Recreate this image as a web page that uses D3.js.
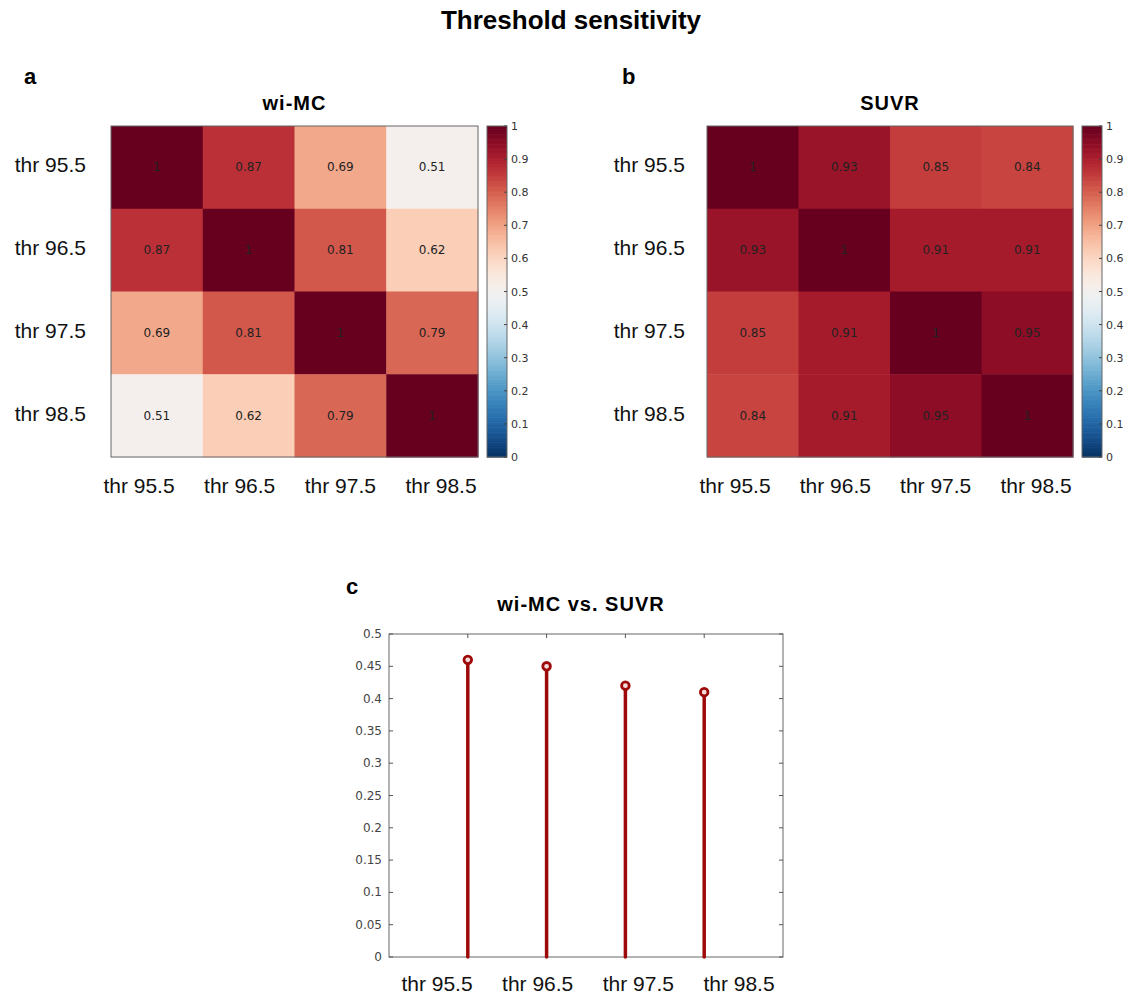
<!DOCTYPE html>
<html>
<head>
<meta charset="utf-8">
<title>Threshold sensitivity</title>
<script src="https://cdn.jsdelivr.net/npm/d3@7"></script>
<style>
  body { margin: 0; background: #fff; }
  text { font-family: "Liberation Sans", Arial, sans-serif; }
  .cell-label, .tick-num { font-family: "DejaVu Sans", sans-serif; }
</style>
</head>
<body>
<svg id="fig"></svg>
<script>
// data
var thresholds = ["thr 95.5", "thr 96.5", "thr 97.5", "thr 98.5"];
var wimcMatrix = [
  [1, 0.87, 0.69, 0.51],
  [0.87, 1, 0.81, 0.62],
  [0.69, 0.81, 1, 0.79],
  [0.51, 0.62, 0.79, 1]
];
var suvrMatrix = [
  [1, 0.93, 0.85, 0.84],
  [0.93, 1, 0.91, 0.91],
  [0.85, 0.91, 1, 0.95],
  [0.84, 0.91, 0.95, 1]
];
var wimcVsSuvr = [0.46, 0.45, 0.42, 0.41];
var colorbarTicks = [0, 0.1, 0.2, 0.3, 0.4, 0.5, 0.6, 0.7, 0.8, 0.9, 1];
var stemTicks = [0, 0.05, 0.1, 0.15, 0.2, 0.25, 0.3, 0.35, 0.4, 0.45, 0.5];

var W = 1128, H = 996;
var svg = d3.select("#fig").attr("width", W).attr("height", H);

var color = function(v) { return d3.interpolateRdBu(1 - v); };
var fmt = function(v) { return v === 1 ? "1" : String(v); };

svg.append("text")
  .attr("x", 571).attr("y", 29)
  .attr("text-anchor", "middle")
  .style("font-size", "26px").style("font-weight", "bold")
  .text("Threshold sensitivity");

function subtitle(g, x, y, s) {
  g.append("text").attr("x", x).attr("y", y)
    .attr("text-anchor", "middle")
    .style("font-size", "20px").style("font-weight", "bold")
    .style("letter-spacing", "1px")
    .text(s);
}

function heatmap(opts) {
  var g = svg.append("g");
  var x = d3.scaleBand().domain(d3.range(4)).range([opts.left, opts.right]);
  var y = d3.scaleBand().domain(d3.range(4)).range([opts.top, opts.bottom]);

  g.append("text").attr("x", opts.letterX).attr("y", 84)
    .style("font-size", "22px").style("font-weight", "bold").text(opts.letter);
  subtitle(g, (opts.left + opts.right) / 2, 110, opts.title);

  var cells = [];
  opts.data.forEach(function(row, i) {
    row.forEach(function(v, j) { cells.push({ r: i, c: j, v: v }); });
  });

  g.selectAll("rect.cell").data(cells).enter().append("rect")
    .attr("class", "cell")
    .attr("x", function(d) { return x(d.c); })
    .attr("y", function(d) { return y(d.r); })
    .attr("width", x.bandwidth() + 0.5)
    .attr("height", y.bandwidth() + 0.5)
    .style("fill", function(d) { return color(d.v); });

  g.selectAll("text.cell-label").data(cells).enter().append("text")
    .attr("class", "cell-label")
    .attr("x", function(d) { return x(d.c) + x.bandwidth() / 2; })
    .attr("y", function(d) { return y(d.r) + y.bandwidth() / 2 + 4; })
    .attr("text-anchor", "middle")
    .style("font-size", "12px").style("fill", "#222")
    .text(function(d) { return fmt(d.v); });

  g.append("rect")
    .attr("x", opts.left).attr("y", opts.top)
    .attr("width", opts.right - opts.left).attr("height", opts.bottom - opts.top)
    .style("fill", "none").style("stroke", "#666").style("stroke-width", 1);

  // row labels
  g.selectAll("text.row").data(thresholds).enter().append("text")
    .attr("class", "row")
    .attr("x", opts.left - opts.rowGap)
    .attr("y", function(d, i) { return y(i) + y.bandwidth() / 2 + 5; })
    .attr("text-anchor", "end")
    .style("font-size", "21px").style("fill", "#111")
    .text(function(d) { return d; });

  // column labels (spaced a little wider than the cells, like the original)
  var lx = d3.scalePoint().domain(thresholds).range([opts.left + 28, opts.right - 37]);
  g.selectAll("text.col").data(thresholds).enter().append("text")
    .attr("class", "col")
    .attr("x", function(d) { return lx(d); })
    .attr("y", opts.bottom + 36)
    .attr("text-anchor", "middle")
    .style("font-size", "21px").style("fill", "#111")
    .text(function(d) { return d; });

  // colorbar
  var cbL = opts.right + 9, cbW = 20;
  var cy = d3.scaleLinear().domain([0, 1]).range([opts.bottom, opts.top]);
  var steps = d3.range(0, 1.0001, 0.005);
  g.selectAll("rect.cb").data(steps).enter().append("rect")
    .attr("class", "cb")
    .attr("x", cbL)
    .attr("y", function(d) { return cy(Math.min(1, d + 0.005)); })
    .attr("width", cbW)
    .attr("height", function(d) { return cy(d) - cy(Math.min(1, d + 0.005)) + 0.6; })
    .style("fill", function(d) { return color(d + 0.0025); });
  g.append("rect")
    .attr("x", cbL).attr("y", opts.top)
    .attr("width", cbW).attr("height", opts.bottom - opts.top)
    .style("fill", "none").style("stroke", "#666").style("stroke-width", 1);
  g.selectAll("line.cbtick").data(colorbarTicks).enter().append("line")
    .attr("class", "cbtick")
    .attr("x1", cbL + cbW - 3).attr("x2", cbL + cbW)
    .attr("y1", function(d) { return cy(d); })
    .attr("y2", function(d) { return cy(d); })
    .style("stroke", "#444");
  g.selectAll("text.cblab").data(colorbarTicks).enter().append("text")
    .attr("class", "cblab tick-num")
    .attr("x", cbL + cbW + 4)
    .attr("y", function(d) { return cy(d) + 4; })
    .style("font-size", "11px").style("fill", "#333")
    .text(function(d) { return d; });
}

heatmap({ data: wimcMatrix, title: "wi-MC", letter: "a", letterX: 24, rowGap: 25,
          left: 111, right: 478, top: 126, bottom: 457 });
heatmap({ data: suvrMatrix, title: "SUVR", letter: "b", letterX: 622, rowGap: 22,
          left: 707, right: 1073, top: 126, bottom: 457 });

// panel c: stem plot
var c = { left: 389, right: 783, top: 634, bottom: 957 };
var gc = svg.append("g");
gc.append("text").attr("x", 346).attr("y", 594)
  .style("font-size", "22px").style("font-weight", "bold").text("c");
subtitle(gc, 581, 611, "wi-MC vs. SUVR");

var sx = d3.scaleLinear().domain([0, 5]).range([c.left, c.right]);
var sy = d3.scaleLinear().domain([0, 0.5]).range([c.bottom, c.top]);

gc.append("rect")
  .attr("x", c.left).attr("y", c.top)
  .attr("width", c.right - c.left).attr("height", c.bottom - c.top)
  .style("fill", "#fff").style("stroke", "#666").style("stroke-width", 1);

gc.selectAll("line.yl").data(stemTicks).enter().append("line")
  .attr("x1", c.left).attr("x2", c.left + 4)
  .attr("y1", function(d) { return sy(d); }).attr("y2", function(d) { return sy(d); })
  .style("stroke", "#555");
gc.selectAll("line.yr").data(stemTicks).enter().append("line")
  .attr("x1", c.right - 4).attr("x2", c.right)
  .attr("y1", function(d) { return sy(d); }).attr("y2", function(d) { return sy(d); })
  .style("stroke", "#555");
gc.selectAll("line.xt").data(wimcVsSuvr).enter().append("line")
  .attr("x1", function(d, i) { return sx(i + 1); })
  .attr("x2", function(d, i) { return sx(i + 1); })
  .attr("y1", c.top).attr("y2", c.top + 4)
  .style("stroke", "#555");

gc.selectAll("text.ylab").data(stemTicks).enter().append("text")
  .attr("class", "tick-num")
  .attr("x", c.left - 7)
  .attr("y", function(d) { return sy(d) + 4; })
  .attr("text-anchor", "end")
  .style("font-size", "12px").style("fill", "#444")
  .text(function(d) { return d; });

var stemColor = "#9e0a0a";
gc.selectAll("line.stem").data(wimcVsSuvr).enter().append("line")
  .attr("x1", function(d, i) { return sx(i + 1); })
  .attr("x2", function(d, i) { return sx(i + 1); })
  .attr("y1", sy(0))
  .attr("y2", function(d) { return sy(d); })
  .style("stroke", stemColor).style("stroke-width", 3.5)
  .style("stroke-linecap", "round");
gc.selectAll("circle.mk").data(wimcVsSuvr).enter().append("circle")
  .attr("cx", function(d, i) { return sx(i + 1); })
  .attr("cy", function(d) { return sy(d); })
  .attr("r", 3.8)
  .style("fill", "#f3dcdc").style("stroke", stemColor).style("stroke-width", 2.8);

var clx = d3.scalePoint().domain(thresholds).range([c.left + 48, c.right - 44]);
gc.selectAll("text.cx").data(thresholds).enter().append("text")
  .attr("x", function(d) { return clx(d); })
  .attr("y", 991)
  .attr("text-anchor", "middle")
  .style("font-size", "21px").style("fill", "#111")
  .text(function(d) { return d; });
</script>
</body>
</html>
